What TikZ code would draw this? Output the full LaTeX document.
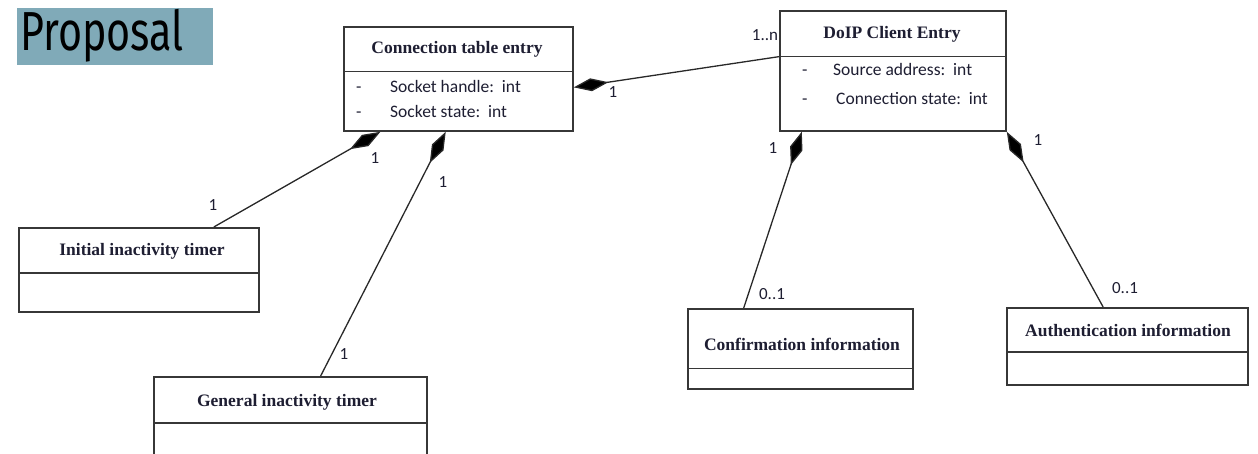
\documentclass[tikz,border=0pt]{standalone}
\usepackage{fontspec}
\setmainfont{Liberation Serif}
\newfontfamily\labelfont{Carlito}
\newfontfamily\headfont{Fira Sans}
\usetikzlibrary{calc,arrows.meta}
\definecolor{titleblue}{RGB}{128,170,184}
\definecolor{boxgray}{RGB}{55,55,55}
\definecolor{linegray}{RGB}{40,40,40}
\definecolor{inkdark}{RGB}{30,30,50}

\begin{document}
\begin{tikzpicture}[x=1pt,y=-1pt,
  classbox/.style={draw=boxgray, line width=1.8pt, rectangle, inner sep=0pt, anchor=north west},
  divider/.style={draw=boxgray, line width=1.6pt},
  classname/.style={font=\bfseries\fontsize{17.5}{19}\selectfont, text=inkdark},
  attr/.style={font=\labelfont\fontsize{17.5}{19}\selectfont, text=inkdark, anchor=base west, inner sep=0pt},
  mult/.style={font=\labelfont\fontsize{17}{19}\selectfont, text=inkdark, inner sep=0pt},
  compose/.style={draw=linegray, line width=1.3pt, {Diamond[length=35pt,width=13pt,fill=black]}-}
]
\clip (0,0) rectangle (1258,454);
\fill[white] (0,0) rectangle (1258,454);

% heading
\node[fill=titleblue, minimum width=196pt, minimum height=57pt, inner sep=0pt, anchor=north west] (head) at (17,8) {};
\node[anchor=west, inner sep=0pt] (headtext) at (20,36) {\headfont\fontsize{55}{55}\selectfont\scalebox{0.75}[1]{Proposal}};

% classes
\node[classbox, minimum width=229pt, minimum height=104pt] (cte) at (343,26) {};
\draw[divider] ($(cte.north west)!0.43!(cte.south west)$) -- ($(cte.north east)!0.43!(cte.south east)$);
\node[classname] (ctename) at (457,49) {Connection table entry};
\node[attr] (cted1) at (356,93) {-};
\node[attr] (cteh) at (390,93) {Socket handle:\ \ int};
\node[attr] (cted2) at (356,118) {-};
\node[attr] (ctes) at (390,118) {Socket state:\ \ int};

\node[classbox, minimum width=226pt, minimum height=120pt] (doip) at (779,10) {};
\draw[divider] ($(doip.north west)!0.383!(doip.south west)$) -- ($(doip.north east)!0.383!(doip.south east)$);
\node[classname] (doipname) at (892,34) {DoIP Client Entry};
\node[attr] (doipd1) at (802,76) {-};
\node[attr] (doipsa) at (833,76) {Source address:\ \ int};
\node[attr] (doipd2) at (802,105) {-};
\node[attr] (doipcs) at (836,105) {Connection state:\ \ int};

\node[classbox, minimum width=240pt, minimum height=84pt] (init) at (18,227) {};
\draw[divider] ($(init.north west)!0.536!(init.south west)$) -- ($(init.north east)!0.536!(init.south east)$);
\node[classname] (initname) at (142,251) {Initial inactivity timer};

\node[classbox, minimum width=273pt, minimum height=100pt] (gen) at (153,376) {};
\draw[divider] ($(gen.north west)!0.46!(gen.south west)$) -- ($(gen.north east)!0.46!(gen.south east)$);
\node[classname] (genname) at (287,402) {General inactivity timer};

\node[classbox, minimum width=225pt, minimum height=80pt] (conf) at (687,308) {};
\draw[divider] ($(conf.north west)!0.74!(conf.south west)$) -- ($(conf.north east)!0.74!(conf.south east)$);
\node[classname] (confname) at (802,344) {Confirmation information};

\node[classbox, minimum width=241pt, minimum height=77pt] (auth) at (1006,307) {};
\draw[divider] ($(auth.north west)!0.57!(auth.south west)$) -- ($(auth.north east)!0.57!(auth.south east)$);
\node[classname] (authname) at (1128,330) {Authentication information};

% composition associations
\draw[compose] ($(cte.north east)!0.58!(cte.south east)$) -- ($(doip.north west)!0.383!(doip.south west)$);
\draw[compose] ($(cte.south west)!0.162!(cte.south east)$) -- ($(init.north west)!0.81!(init.north east)$);
\draw[compose] ($(cte.south west)!0.445!(cte.south east)$) -- ($(gen.north west)!0.61!(gen.north east)$);
\draw[compose] ($(doip.south west)!0.10!(doip.south east)$) -- ($(conf.north west)!0.25!(conf.north east)$);
\draw[compose] (doip.south east) -- ($(auth.north west)!0.40!(auth.north east)$);

% multiplicities
\node[mult] (m1) at (613,92) {1};
\node[mult] (m2) at (765,35) {1..n};
\node[mult] (m3) at (375,158) {1};
\node[mult] (m4) at (213,205) {1};
\node[mult] (m5) at (443,182) {1};
\node[mult] (m6) at (344,354) {1};
\node[mult] (m7) at (773,148) {1};
\node[mult] (m8) at (772,294) {0..1};
\node[mult] (m9) at (1038,140) {1};
\node[mult] (m10) at (1125,288) {0..1};
\end{tikzpicture}
\end{document}
